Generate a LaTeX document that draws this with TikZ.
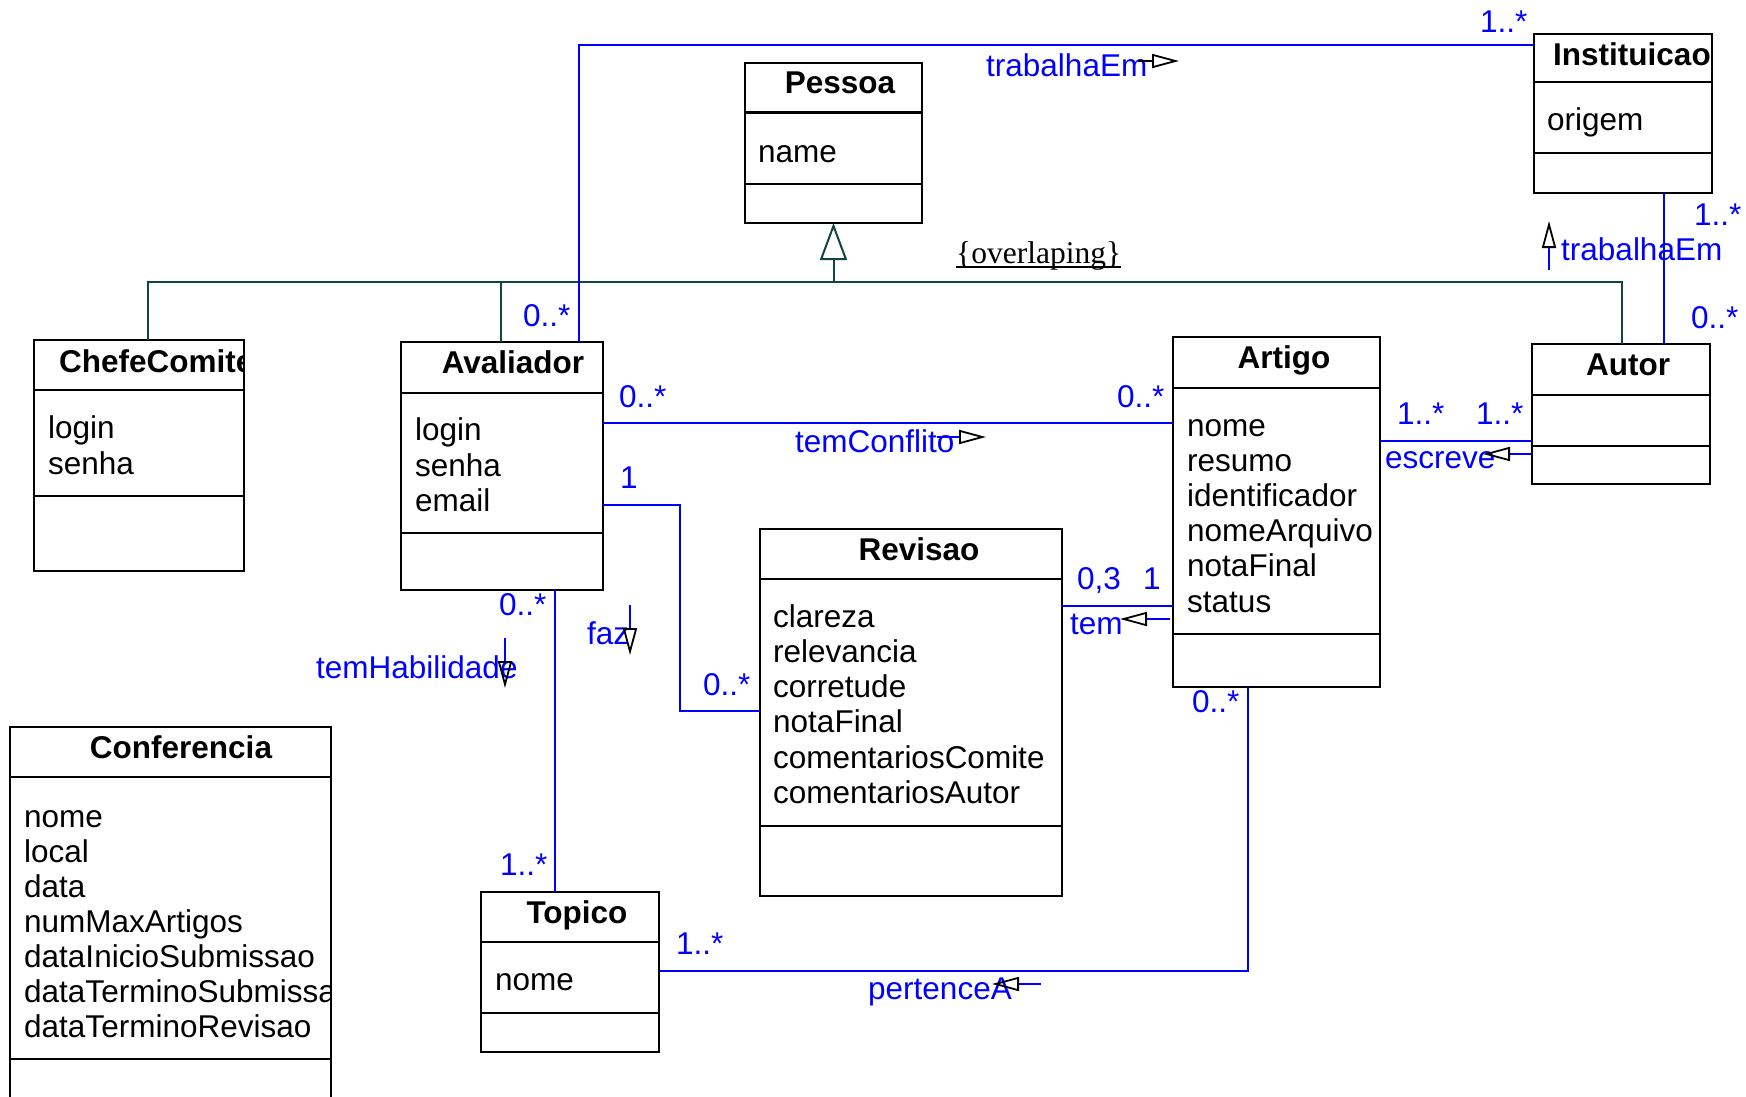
\documentclass[tikz,border=0pt]{standalone}
\usepackage{fontspec}
\setmainfont{Liberation Sans}
\newfontfamily\serifX{Liberation Serif}
\usetikzlibrary{arrows.meta}
\definecolor{umlblue}{RGB}{0,0,255}
\definecolor{genteal}{RGB}{15,70,65}
\newcommand{\umlsize}{\fontsize{31.5}{35.2}\selectfont}
\tikzset{
  cls/.style={draw=black, line width=2.2pt, anchor=north west, inner sep=0pt, outer sep=0pt},
  sepline/.style={draw=black, line width=2.2pt},
  assoc/.style={draw=umlblue, line width=1.8pt},
  gen/.style={draw=genteal, line width=2pt},
  mult/.style={text=umlblue, anchor=base west, inner sep=0pt},
  lbl/.style={text=umlblue, anchor=base west, inner sep=0pt},
  attr/.style={anchor=base west, inner sep=0pt},
  ttl/.style={anchor=base, inner sep=0pt, font=\umlsize\bfseries},
  ttlw/.style={anchor=base west, inner sep=0pt, font=\umlsize\bfseries},
  navarr/.style={draw=umlblue, line width=1.8pt, -{Triangle[open, length=27pt, width=14pt, color=black]}},
}
\begin{document}
\begin{tikzpicture}[x=1pt, y=-1pt, font=\umlsize]
\useasboundingbox (0,0) rectangle (1746,1096);
\fill[white] (0,0) rectangle (1746,1096);

% ---------- class boxes ----------
\node[cls, minimum width=177pt, minimum height=160pt] (pessoa) at (745,63) {};
\draw[sepline] (pessoa.west |- 0,112.5) -- (pessoa.east |- 0,112.5);
\draw[sepline] (pessoa.west |- 0,184) -- (pessoa.east |- 0,184);

\node[cls, minimum width=178pt, minimum height=159pt] (inst) at (1534,34) {};
\draw[sepline] (inst.west |- 0,82) -- (inst.east |- 0,82);
\draw[sepline] (inst.west |- 0,153) -- (inst.east |- 0,153);

\node[cls, minimum width=210pt, minimum height=231pt] (chefe) at (34,340) {};
\draw[sepline] (chefe.west |- 0,390) -- (chefe.east |- 0,390);
\draw[sepline] (chefe.west |- 0,496) -- (chefe.east |- 0,496);

\node[cls, minimum width=202pt, minimum height=248pt] (avaliador) at (401,342) {};
\draw[sepline] (avaliador.west |- 0,393) -- (avaliador.east |- 0,393);
\draw[sepline] (avaliador.west |- 0,533) -- (avaliador.east |- 0,533);

\node[cls, minimum width=207pt, minimum height=350pt] (artigo) at (1173,337) {};
\draw[sepline] (artigo.west |- 0,388) -- (artigo.east |- 0,388);
\draw[sepline] (artigo.west |- 0,634) -- (artigo.east |- 0,634);

\node[cls, minimum width=178pt, minimum height=140pt] (autor) at (1532,344) {};
\draw[sepline] (autor.west |- 0,395) -- (autor.east |- 0,395);
\draw[sepline] (autor.west |- 0,446) -- (autor.east |- 0,446);

\node[cls, minimum width=302pt, minimum height=367pt] (revisao) at (760,529) {};
\draw[sepline] (revisao.west |- 0,579) -- (revisao.east |- 0,579);
\draw[sepline] (revisao.west |- 0,826) -- (revisao.east |- 0,826);

\node[cls, minimum width=321pt, minimum height=383pt] (conf) at (10,727) {};
\draw[sepline] (conf.west |- 0,777) -- (conf.east |- 0,777);
\draw[sepline] (conf.west |- 0,1059) -- (conf.east |- 0,1059);

\node[cls, minimum width=178pt, minimum height=160pt] (topico) at (481,892) {};
\draw[sepline] (topico.west |- 0,942) -- (topico.east |- 0,942);
\draw[sepline] (topico.west |- 0,1013) -- (topico.east |- 0,1013);

% ---------- class texts ----------
\node[ttl] (pessoaT) at (840,93) {Pessoa};
\node[attr] (pessoaA) at (758,162) {name};

\node[ttlw] (instT) at (1553,65) {Instituicao};
\node[attr] (instA) at (1547,130) {origem};

\begin{scope}
  \clip (chefe.north west) rectangle (chefe.south east);
  \node[ttlw] (chefeT) at (59,372) {ChefeComite};
\end{scope}
\node[attr] (chefeA1) at (48,438) {login};
\node[attr] (chefeA2) at (48,474) {senha};

\node[ttl] (avalT) at (513,373) {Avaliador};
\node[attr] (avalA1) at (415,440) {login};
\node[attr] (avalA2) at (415,476) {senha};
\node[attr] (avalA3) at (415,511) {email};

\node[ttl] (artT) at (1284,368) {Artigo};
\foreach \t [count=\i from 0] in {nome,resumo,identificador,nomeArquivo,notaFinal,status}
  \node[attr] (artA\i) at (1187,{436+35.2*\i}) {\t};

\node[ttl] (autorT) at (1628,375) {Autor};

\node[ttl] (revT) at (919,560) {Revisao};
\foreach \t [count=\i from 0] in {clareza,relevancia,corretude,notaFinal,comentariosComite,comentariosAutor}
  \node[attr] (revA\i) at (773,{627+35.3*\i}) {\t};

\node[ttl] (confT) at (181,758) {Conferencia};
\begin{scope}
  \clip (conf.north west) rectangle (conf.south east);
  \foreach \t [count=\i from 0] in {nome,local,data,numMaxArtigos,dataInicioSubmissao,dataTerminoSubmissao,dataTerminoRevisao}
    \node[attr] (confA\i) at (24,{827+35*\i}) {\t};
\end{scope}

\node[ttl] (topT) at (577,923) {Topico};
\node[attr] (topA) at (495,990) {nome};

% ---------- generalization ----------
\draw[gen] (chefe.north -| 148,0) -- (148,282) -- (1622,282) -- (autor.north -| 1622,0);
\draw[gen] (avaliador.north -| 501,0) -- (501,282);
\draw[gen, -{Triangle[open, length=37pt, width=27pt, fill=white]}] (pessoa.south |- 0,282) -- (pessoa.south);
\node[anchor=base west, inner sep=0pt, font=\serifX\umlsize] (ovl) at (956,263) {\{overlaping\}};
\draw[line width=1.5pt] ([yshift=-4pt]ovl.base west) -- ([yshift=-4pt]ovl.base east);

% ---------- associations ----------
\draw[assoc] (avaliador.north -| 579,0) -- (579,45) -- (inst.west |- 0,45);
\draw[assoc] (inst.south -| 1664,0) -- (autor.north -| 1664,0);
\draw[assoc] (avaliador.east |- 0,423) -- (artigo.west |- 0,423);
\draw[assoc] (avaliador.east |- 0,505) -- (680,505) -- (680,711) -- (revisao.west |- 0,711);
\draw[assoc] (revisao.east |- 0,606) -- (artigo.west |- 0,606);
\draw[assoc] (artigo.east |- 0,441) -- (autor.west |- 0,441);
\draw[assoc] (avaliador.south -| 555,0) -- (topico.north -| 555,0);
\draw[assoc] (topico.east |- 0,971) -- (1248,971) -- (artigo.south -| 1248,0);

% ---------- association names ----------
\node[lbl] (lTrab1) at (986,76) {trabalhaEm};
\node[lbl] (lTrab2) at (1561,260) {trabalhaEm};
\node[lbl] (lConf) at (795,452) {temConflito};
\node[lbl] (lEscr) at (1385,468) {escreve};
\node[lbl] (lTem) at (1070,634) {tem};
\node[lbl] (lFaz) at (587,644) {faz};
\node[lbl] (lHab) at (316,678) {temHabilidade};
\node[lbl] (lPert) at (868,999) {pertenceA};

% reading-direction arrows
\draw[navarr, draw=black] (1138,61) -- (1179,61);
\draw[navarr] (1549,270) -- (1549,221);
\draw[navarr] (937,437) -- (986,437);
\draw[navarr] (1532,454) -- (1483,454);
\draw[navarr] (1170,619) -- (1120,619);
\draw[navarr] (630,605) -- (630,655);
\draw[navarr] (505,638) -- (505,688);
\draw[navarr] (1041,984) -- (992,984);

% ---------- multiplicities ----------
\node[mult] (m1) at (1480,32) {1..*};
\node[mult] (m2) at (523,326) {0..*};
\node[mult] (m3) at (1694,225) {1..*};
\node[mult] (m4) at (1691,328) {0..*};
\node[mult] (m5) at (619,407) {0..*};
\node[mult] (m6) at (1117,407) {0..*};
\node[mult] (m7) at (620,488) {1};
\node[mult] (m8) at (703,695) {0..*};
\node[mult] (m9) at (1077,589) {0,3};
\node[mult] (m10) at (1143,589) {1};
\node[mult] (m11) at (1397,424) {1..*};
\node[mult] (m12) at (1476,424) {1..*};
\node[mult] (m13) at (499,615) {0..*};
\node[mult] (m14) at (500,875) {1..*};
\node[mult] (m15) at (676,954) {1..*};
\node[mult] (m16) at (1192,712) {0..*};
\end{tikzpicture}
\end{document}
